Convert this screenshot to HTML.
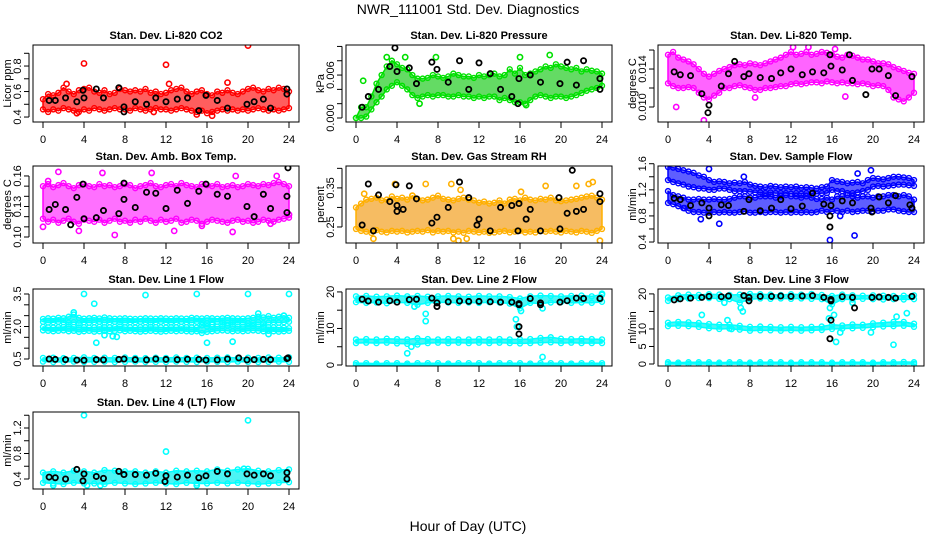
<!DOCTYPE html>
<html><head><meta charset="utf-8"><title>NWR_111001 Std. Dev. Diagnostics</title>
<style>
html,body{margin:0;padding:0;background:#fff;}
svg{display:block;font-family:"Liberation Sans",Arial,sans-serif;}
</style></head>
<body>
<svg id="chart" width="936" height="540" viewBox="0 0 936 540" xmlns="http://www.w3.org/2000/svg">
<rect x="0" y="0" width="936" height="540" fill="#fff"/>
<text x="468" y="14" text-anchor="middle" font-size="14">NWR_111001  Std. Dev. Diagnostics</text>
<text x="468" y="531" text-anchor="middle" font-size="14">Hour of Day (UTC)</text>
</svg>
<script>
const xTicks = [0,4,8,12,16,20,24];
const blackH = [0.6,1.2,2.2,3.3,4,5.2,5.9,7.4,7.9,9,10.1,11,12,13.1,14.1,15.2,15.9,17,18,19.9,20.6,21.5,22.2,23.8];

// Panel 1: CO2
const co2Lo = [0.46,0.44,0.46,0.45,0.47,0.46,0.45,0.44,0.46,0.45,0.47,0.46,0.45,0.46,0.47,0.46,0.46,0.45,0.47,0.46,0.45,0.46,0.47,0.46,0.46,0.45,0.46,0.47,0.46,0.45,0.44,0.45,0.43,0.44,0.45,0.46,0.45,0.46,0.45,0.46,0.45,0.46,0.47,0.46,0.45,0.46,0.45,0.46,0.47];
const co2Hi = [0.54,0.58,0.57,0.59,0.63,0.60,0.58,0.61,0.62,0.63,0.60,0.59,0.61,0.58,0.59,0.62,0.61,0.60,0.61,0.60,0.62,0.59,0.60,0.58,0.59,0.61,0.62,0.63,0.60,0.58,0.60,0.61,0.58,0.57,0.60,0.59,0.61,0.59,0.58,0.60,0.62,0.63,0.61,0.60,0.62,0.61,0.63,0.62,0.60];
const co2Out = [[4,0.82],[12,0.81],[20,0.96],[18,0.67],[12.3,0.66],[2.3,0.66],[10.8,0.44],[16.5,0.41],[15,0.42],[3.3,0.43]];
const co2Black = [0.53,0.53,0.55,0.52,0.55,0.62,0.55,0.63,0.48,0.52,0.50,0.55,0.52,0.54,0.55,0.45,0.57,0.53,0.47,0.50,0.52,0.54,0.47,0.58];
const co2BlackX = [[3.9,0.61],[7.9,0.44],[23.8,0.62]];

// Panel 2: Pressure
const prLo = [0.0000,0.0000,0.0002,0.0012,0.0022,0.0030,0.0040,0.0045,0.0050,0.0045,0.0040,0.0032,0.0028,0.0030,0.0032,0.0030,0.0032,0.0032,0.0030,0.0030,0.0032,0.0030,0.0030,0.0028,0.0030,0.0028,0.0030,0.0030,0.0025,0.0028,0.0025,0.0022,0.0022,0.0020,0.0025,0.0030,0.0032,0.0030,0.0028,0.0030,0.0030,0.0028,0.0030,0.0032,0.0035,0.0038,0.0040,0.0042,0.0045];
const prHi = [0.0000,0.0015,0.0015,0.0030,0.0048,0.0060,0.0072,0.0080,0.0075,0.0070,0.0068,0.0060,0.0055,0.0055,0.0056,0.0060,0.0058,0.0056,0.0058,0.0062,0.0060,0.0058,0.0058,0.0056,0.0060,0.0058,0.0060,0.0062,0.0058,0.0060,0.0068,0.0062,0.0070,0.0060,0.0062,0.0065,0.0068,0.0072,0.0070,0.0075,0.0072,0.0070,0.0068,0.0070,0.0065,0.0068,0.0066,0.0065,0.0062];
const prOut = [[0.7,0.0052],[3,0.0085],[7.8,0.0085],[16,0.0085],[18.9,0.0088],[6.2,0.0020],[16.6,0.0018],[4.8,0.0085]];
const prBlack = [0.0015,0.0030,0.0040,0.0072,0.0065,0.0070,0.0048,0.0078,0.0068,0.0050,0.0080,0.0040,0.0077,0.0062,0.0040,0.0030,0.0055,0.0060,0.0050,0.0048,0.0078,0.0046,0.0080,0.0055];
const prBlackX = [[3.8,0.0098],[15.8,0.0020],[23.8,0.0040]];

// Panel 3: Li-820 Temp
const tpLo = [0.0125,0.0122,0.0120,0.0120,0.0121,0.0120,0.0115,0.0110,0.0108,0.0112,0.0115,0.0120,0.0120,0.0122,0.0123,0.0121,0.0120,0.0118,0.0118,0.0120,0.0120,0.0121,0.0122,0.0122,0.0124,0.0125,0.0124,0.0125,0.0126,0.0126,0.0125,0.0127,0.0126,0.0125,0.0126,0.0125,0.0125,0.0124,0.0125,0.0124,0.0122,0.0123,0.0122,0.0118,0.0110,0.0108,0.0106,0.0110,0.0115];
const tpHi = [0.0155,0.0158,0.0152,0.0150,0.0148,0.0145,0.0140,0.0135,0.0132,0.0135,0.0138,0.0140,0.0142,0.0144,0.0145,0.0144,0.0146,0.0145,0.0144,0.0146,0.0148,0.0150,0.0152,0.0155,0.0158,0.0155,0.0156,0.0158,0.0155,0.0156,0.0158,0.0157,0.0155,0.0153,0.0152,0.0155,0.0154,0.0152,0.0150,0.0150,0.0148,0.0146,0.0146,0.0145,0.0142,0.0140,0.0138,0.0136,0.0135];
const tpOut = [[0.8,0.0100],[3.5,0.0086],[12.2,0.0163],[13.7,0.0163],[17.3,0.0111],[8.5,0.0110],[16.3,0.0161]];
const tpBlack = [0.0137,0.0134,0.0133,0.0114,0.0102,0.0122,0.0135,0.0132,0.0135,0.0131,0.0130,0.0136,0.0140,0.0134,0.0137,0.0136,0.0143,0.0139,0.0128,0.0140,0.0140,0.0133,0.0112,0.0132];
const tpBlackX = [[3.9,0.0094],[19.3,0.0113],[6.5,0.0148],[17.7,0.0155],[15.8,0.0155]];

// Panel 4: Amb. Box Temp
const abLo = [0.118,0.115,0.117,0.114,0.116,0.118,0.115,0.113,0.117,0.116,0.115,0.117,0.114,0.116,0.118,0.115,0.116,0.114,0.117,0.115,0.118,0.116,0.114,0.117,0.115,0.116,0.118,0.114,0.115,0.117,0.116,0.113,0.115,0.117,0.116,0.115,0.114,0.116,0.117,0.115,0.116,0.114,0.115,0.117,0.116,0.115,0.117,0.118,0.119];
const abHi = [0.150,0.152,0.149,0.151,0.153,0.150,0.148,0.151,0.152,0.150,0.149,0.152,0.150,0.151,0.149,0.150,0.152,0.151,0.148,0.150,0.151,0.153,0.150,0.149,0.151,0.152,0.150,0.153,0.151,0.150,0.149,0.152,0.151,0.150,0.152,0.149,0.150,0.151,0.149,0.150,0.152,0.151,0.150,0.152,0.151,0.153,0.154,0.152,0.150];
const abOut = [[0,0.110],[0.5,0.155],[1.5,0.164],[3.5,0.106],[5.8,0.163],[7,0.102],[10.6,0.163],[12.8,0.106],[15.5,0.111],[18.8,0.160],[18.5,0.105],[22.8,0.160],[22.2,0.113],[24,0.122]];
const abBlack = [0.127,0.132,0.127,0.139,0.118,0.119,0.126,0.123,0.137,0.129,0.144,0.143,0.128,0.146,0.133,0.145,0.152,0.142,0.140,0.130,0.120,0.142,0.128,0.140];
const abBlackX = [[3.9,0.152],[2.7,0.112],[7.9,0.153],[23.9,0.168],[23.8,0.124]];

// Panel 5: Gas Stream RH
const rhLo = [0.245,0.240,0.238,0.235,0.242,0.238,0.236,0.240,0.238,0.240,0.236,0.238,0.240,0.238,0.242,0.236,0.240,0.238,0.240,0.236,0.238,0.235,0.240,0.238,0.236,0.238,0.235,0.236,0.238,0.240,0.236,0.238,0.240,0.236,0.238,0.236,0.240,0.238,0.240,0.238,0.236,0.240,0.238,0.236,0.240,0.238,0.235,0.240,0.245];
const rhHi = [0.300,0.310,0.320,0.322,0.325,0.318,0.320,0.328,0.322,0.325,0.320,0.330,0.322,0.318,0.320,0.325,0.330,0.322,0.320,0.318,0.322,0.325,0.320,0.318,0.312,0.315,0.310,0.312,0.318,0.310,0.320,0.322,0.318,0.325,0.320,0.318,0.322,0.320,0.325,0.318,0.316,0.318,0.320,0.322,0.325,0.328,0.330,0.325,0.320];
const rhOut = [[0.8,0.335],[1.7,0.22],[3.8,0.36],[5.5,0.33],[6.8,0.36],[9.3,0.36],[9.5,0.22],[10.2,0.345],[10,0.215],[16.1,0.34],[18.5,0.355],[21.5,0.355],[22.7,0.36],[23.1,0.365],[23.8,0.215],[10.8,0.22]];
const rhBlack = [0.255,0.360,0.332,0.315,0.305,0.355,0.322,0.260,0.275,0.300,0.365,0.325,0.270,0.240,0.300,0.305,0.310,0.295,0.240,0.245,0.285,0.290,0.295,0.315];
const rhBlackX = [[21.1,0.395],[3.9,0.358],[4,0.29],[23.8,0.335],[19.8,0.325],[1.7,0.24],[15.8,0.24],[11.8,0.255],[16.6,0.27],[4.6,0.295]];

// Panel 6: Sample Flow
const sfAHi = [1.55,1.54,1.52,1.50,1.48,1.46,1.42,1.40,1.35,1.32,1.33,1.32,1.30,1.31,1.30,1.32,1.28,1.26,1.25,1.24,1.26,1.25,1.24,1.25,1.24,1.25,1.23,1.24,1.23,1.22,1.24,1.25,1.35,1.33,1.32,1.30,1.31,1.32,1.30,1.35,1.38,1.37,1.36,1.38,1.40,1.40,1.39,1.38,1.35];
const sfALo = [1.35,1.32,1.30,1.28,1.25,1.24,1.22,1.22,1.20,1.20,1.22,1.22,1.20,1.18,1.18,1.18,1.17,1.16,1.16,1.15,1.16,1.15,1.15,1.15,1.14,1.15,1.14,1.15,1.14,1.14,1.15,1.15,1.20,1.18,1.18,1.15,1.15,1.16,1.18,1.20,1.25,1.26,1.25,1.26,1.27,1.28,1.28,1.27,1.26];
const sfBHi = [1.18,1.12,1.10,1.08,1.05,1.05,1.06,1.05,1.05,1.06,1.05,1.05,1.06,1.08,1.10,1.10,1.08,1.08,1.10,1.10,1.10,1.08,1.10,1.12,1.10,1.10,1.08,1.10,1.08,1.06,1.06,1.08,1.05,1.10,1.10,1.12,1.10,1.08,1.10,1.10,1.08,1.10,1.10,1.12,1.12,1.10,1.12,1.10,1.05];
const sfBLo = [1.00,0.98,0.95,0.92,0.88,0.86,0.86,0.85,0.85,0.86,0.85,0.86,0.85,0.85,0.86,0.87,0.85,0.85,0.86,0.85,0.86,0.86,0.85,0.86,0.85,0.86,0.85,0.86,0.85,0.86,0.88,0.86,0.87,0.88,0.86,0.88,0.86,0.87,0.88,0.88,0.87,0.88,0.88,0.90,0.90,0.88,0.87,0.86,0.86];
const sfOut = [[1.6,0.92],[3.2,0.75],[4,1.52],[5,0.68],[7.4,1.40],[15.8,0.43],[18.2,0.50],[18.5,1.45],[19.8,1.50],[16.8,0.80]];
const sfBlack = [1.07,1.05,0.96,1.00,0.92,0.97,0.96,0.87,1.05,0.88,0.92,1.05,0.91,0.95,1.15,0.98,0.96,1.03,1.00,0.86,1.09,1.00,1.11,0.92];
const sfBlackX = [[15.8,0.63],[15.8,0.80],[4,0.80],[19.8,0.92],[23.6,0.97]];

// Panel 7: Line 1 Flow
const l1UHi = [2.35,2.38,2.36,2.40,2.38,2.45,2.55,2.40,2.36,2.38,2.40,2.37,2.42,2.38,2.36,2.37,2.38,2.36,2.35,2.36,2.38,2.37,2.36,2.38,2.37,2.36,2.38,2.37,2.36,2.40,2.38,2.37,2.39,2.38,2.36,2.38,2.40,2.38,2.37,2.36,2.38,2.40,2.45,2.42,2.48,2.40,2.45,2.50,2.40];
const l1ULo = [2.22,2.18,2.20,2.22,2.20,2.18,2.20,2.15,2.20,2.18,2.20,2.22,2.18,2.20,2.22,2.20,2.18,2.20,2.20,2.22,2.20,2.18,2.20,2.22,2.20,2.18,2.20,2.22,2.20,2.18,2.22,2.20,2.15,2.20,2.22,2.20,2.18,2.20,2.20,2.18,2.15,2.18,2.20,2.15,2.18,2.20,2.18,2.20,2.22];
const l1MHi = [1.98,1.96,1.95,1.97,1.98,2.00,1.98,1.96,1.97,1.95,1.96,1.98,1.97,1.96,1.98,2.00,1.97,1.96,1.95,1.97,1.96,1.98,1.97,1.96,1.95,1.97,1.96,1.98,1.97,1.96,1.95,2.05,2.00,1.98,2.00,2.02,2.04,2.02,2.00,1.98,2.00,2.02,2.00,1.98,1.97,1.96,1.95,1.94,1.92];
const l1MLo = [1.82,1.80,1.78,1.80,1.82,1.78,1.80,1.75,1.78,1.80,1.76,1.78,1.80,1.78,1.80,1.82,1.78,1.80,1.78,1.76,1.78,1.80,1.78,1.76,1.78,1.80,1.78,1.80,1.78,1.76,1.78,1.70,1.75,1.78,1.80,1.82,1.80,1.78,1.80,1.78,1.80,1.82,1.80,1.78,1.80,1.78,1.76,1.78,1.80];
const l1BHi = [0.55,0.56,0.54,0.55,0.58,0.55,0.56,0.55,0.57,0.55,0.54,0.56,0.55,0.57,0.55,0.56,0.55,0.56,0.57,0.55,0.56,0.55,0.57,0.56,0.58];
const l1BLo = [0.38,0.36,0.37,0.38,0.36,0.37,0.38,0.36,0.37,0.38,0.36,0.37,0.36,0.38,0.37,0.36,0.38,0.37,0.36,0.38,0.37,0.36,0.37,0.38,0.37];
const l1Out = [[4,3.5],[5,3.05],[3,2.65],[10,3.45],[15,3.5],[20,3.5],[24,3.5],[5.2,1.25],[6,1.6],[16,1.25],[18.5,1.3],[21,2.6],[22,1.65],[16.5,2.1],[23.5,2.5],[6.8,1.55],[7.2,1.52]];
const l1Black = [0.50,0.48,0.47,0.45,0.44,0.47,0.46,0.48,0.50,0.47,0.46,0.50,0.48,0.47,0.49,0.48,0.45,0.46,0.50,0.46,0.47,0.48,0.47,0.52];
const l1BlackX = [[19.1,0.55],[23.9,0.55]];

// Panel 8: Line 2 Flow
const l2UHi = [18.8,18.9,18.7,18.8,19.0,18.8,18.9,18.7,18.8,18.9,18.8,18.7,18.9,18.8,18.8,18.6,18.2,18.8,19.0,18.9,18.8,18.9,19.0,18.8,19.2];
const l2ULo = [17.2,17.0,17.1,16.9,17.2,17.0,16.5,17.0,17.2,17.1,17.0,17.1,17.0,17.2,17.1,16.8,15.5,17.0,16.8,17.1,17.2,17.0,17.1,17.0,17.3];
const l2MHi = [7.0,7.1,7.0,7.2,7.1,7.0,7.3,7.1,7.0,7.1,7.0,7.0,7.1,7.0,7.1,7.0,7.0,7.1,7.4,7.6,7.2,7.1,7.2,7.1,7.0];
const l2MLo = [6.0,6.1,6.0,6.1,5.9,5.8,5.6,6.0,6.1,6.0,6.1,6.0,6.1,6.0,6.1,6.0,5.9,6.0,6.1,6.2,6.0,6.1,6.0,6.0,6.0];
const l2BHi = [0.5,0.5,0.4,0.5,0.5,0.4,0.5,0.5,0.5,0.4,0.5,0.5,0.5,0.4,0.5,0.5,0.5,0.4,0.5,0.5,0.5,0.4,0.5,0.5,0.5];
const l2BLo = [0.0,0.0,0.0,0.0,0.0,0.0,0.0,0.0,0.0,0.0,0.0,0.0,0.0,0.0,0.0,0.0,0.0,0.0,0.0,0.0,0.0,0.0,0.0,0.0,0.0];
const l2Out = [[5.7,16],[6.8,14],[6.8,12],[5,3.2],[5.4,5],[15.6,12.5],[15.7,10.5],[16.1,14.8],[18.2,2.2],[18.2,15.5],[24,19.5]];
const l2Black = [18.0,17.5,17.2,17.6,17.2,17.9,18.0,18.3,17.0,17.3,17.5,17.4,17.4,17.3,17.2,17.2,16.8,18.2,17.0,17.2,17.6,18.3,18.2,18.2];
const l2BlackX = [[15.9,10.5],[15.9,8.5],[15.9,16.5],[7.9,16],[18,16.5]];

// Panel 9: Line 3 Flow
const l3UHi = [19.0,19.6,19.8,19.7,19.9,19.8,19.7,19.8,20.0,19.9,19.8,19.7,19.9,19.8,20.0,19.7,19.4,19.8,19.6,19.5,19.6,19.5,19.4,19.5,19.6];
const l3ULo = [18.0,18.5,18.7,18.8,18.8,18.6,18.5,17.5,18.5,18.7,18.6,18.7,18.6,18.7,18.6,18.5,17.0,18.5,18.4,18.6,18.5,18.4,18.5,18.4,18.5];
const l3MHi = [11.8,12.0,11.9,11.7,11.4,11.2,11.2,10.9,10.6,10.7,10.6,10.5,10.6,10.5,10.6,10.7,11.2,11.0,11.3,11.2,11.6,11.8,12.0,12.0,11.5];
const l3MLo = [10.8,10.9,10.8,10.6,10.2,10.0,10.1,9.8,9.5,9.6,9.6,9.5,9.6,9.5,9.6,9.7,10.0,10.1,10.2,10.3,10.5,10.7,10.8,10.9,10.6];
const l3BHi = [0.5,0.4,0.5,0.5,0.5,0.4,0.5,0.5,0.4,0.5,0.5,0.5,0.4,0.5,0.5,0.5,0.4,0.5,0.5,0.5,0.4,0.5,0.5,0.6,0.5];
const l3BLo = [0.0,0.0,0.0,0.0,0.0,0.0,0.0,0.0,0.0,0.0,0.0,0.0,0.0,0.0,0.0,0.0,0.0,0.0,0.0,0.0,0.0,0.0,0.0,0.0,0.0];
const l3Out = [[3.3,14],[5.8,12.5],[6.2,10],[7.1,16],[7.3,15],[5.5,17.5],[15.7,13],[15.8,16],[16.2,14],[16.4,6.3],[16.8,9],[19.8,9],[22,5.5],[22.3,13.5],[23.3,14.5],[18,17.5]];
const l3Black = [18.3,18.6,18.8,19.0,19.3,19.2,19.4,19.5,19.0,19.3,19.3,19.4,19.3,19.4,19.5,19.0,18.4,19.2,19.0,19.0,19.1,19.0,18.8,19.3];
const l3BlackX = [[15.9,12.5],[15.8,7.2],[15.9,18],[18.2,16],[7.9,18]];

// Panel 10: Line 4 (LT) Flow
const l4Hi = [0.50,0.52,0.50,0.53,0.52,0.50,0.54,0.53,0.52,0.52,0.50,0.52,0.50,0.53,0.52,0.53,0.52,0.55,0.53,0.55,0.56,0.53,0.52,0.54,0.55];
const l4Lo = [0.34,0.33,0.32,0.34,0.33,0.33,0.32,0.34,0.33,0.32,0.33,0.34,0.33,0.32,0.34,0.33,0.33,0.34,0.33,0.34,0.33,0.32,0.33,0.34,0.35];
const l4Out = [[4,1.4],[12,0.83],[20,1.32],[19.6,0.56],[4.3,0.3],[1,0.3],[15,0.3],[5.6,0.3]];
const l4Black = [0.43,0.42,0.40,0.55,0.48,0.44,0.41,0.52,0.47,0.47,0.46,0.49,0.45,0.43,0.46,0.42,0.45,0.52,0.48,0.48,0.46,0.48,0.45,0.50];
const l4BlackX = [[3.9,0.37],[11.9,0.36],[23.8,0.40]];

const yTicks1 = [0.4,0.5,0.6,0.7,0.8,0.9], yLab1 = ["0.4","","0.6","","0.8",""];
const yTicks2 = [0,0.002,0.004,0.006,0.008,0.010], yLab2 = ["0.000","","","0.006","",""];
const yTicks3 = [0.010,0.012,0.014,0.016], yLab3 = ["0.010","","0.014",""];
const yTicks4 = [0.10,0.11,0.12,0.13,0.14,0.15,0.16], yLab4 = ["0.10","","","0.13","","","0.16"];
const yTicks5 = [0.25,0.30,0.35,0.40], yLab5 = ["0.25","","0.35",""];
const yTicks6 = [0.4,0.6,0.8,1.0,1.2,1.4,1.6], yLab6 = ["0.4","","0.8","","1.2","","1.6"];
const yTicks7 = [0.5,1.0,1.5,2.0,2.5,3.0,3.5], yLab7 = ["0.5","","","2.0","","","3.5"];
const yTicks8 = [0,5,10,15,20], yLab8 = ["0","5","10","","20"];
const yTicks10 = [0.4,0.6,0.8,1.0,1.2,1.4], yLab10 = ["0.4","","0.8","","1.2",""];

const COLS = [33, 346, 658], ROWS = [45, 166, 289, 412], BW = 266, BH = 77;

const panels = [
 {name:'co2', title:'Stan. Dev. Li-820 CO2', ytitle:'Licor ppm', c:0, r:0, ylim:[0.361,0.965], yt:yTicks1, yl:yLab1, col:'#ff0000', fill:'#ff1a1a', bands:[[co2Lo,co2Hi]], out:co2Out, blk:co2Black, blkX:co2BlackX},
 {name:'pressure', title:'Stan. Dev. Li-820 Pressure', ytitle:'kPa', c:1, r:0, ylim:[-0.00056,0.0102], yt:yTicks2, yl:yLab2, col:'#00e000', fill:'#22cc22', bands:[[prLo,prHi]], out:prOut, blk:prBlack, blkX:prBlackX},
 {name:'li820-temp', title:'Stan. Dev. Li-820 Temp.', ytitle:'degrees C', c:2, r:0, ylim:[0.00842,0.01653], yt:yTicks3, yl:yLab3, col:'#ff00ff', fill:'#ff22ff', bands:[[tpLo,tpHi]], out:tpOut, blk:tpBlack, blkX:tpBlackX},
 {name:'amb-box-temp', title:'Stan. Dev. Amb. Box Temp.', ytitle:'degrees C', c:0, r:1, ylim:[0.0941,0.1698], yt:yTicks4, yl:yLab4, col:'#ff00ff', fill:'#ff33ff', bands:[[abLo,abHi]], out:abOut, blk:abBlack, blkX:abBlackX},
 {name:'gas-stream-rh', title:'Stan. Dev. Gas Stream RH', ytitle:'percent', c:1, r:1, ylim:[0.209,0.406], yt:yTicks5, yl:yLab5, col:'#ffb000', fill:'#f2a020', bands:[[rhLo,rhHi]], out:rhOut, blk:rhBlack, blkX:rhBlackX},
 {name:'sample-flow', title:'Stan. Dev. Sample Flow', ytitle:'ml/min', c:2, r:1, ylim:[0.385,1.565], yt:yTicks6, yl:yLab6, col:'#0000ff', fill:'#1a1aff', bands:[[sfALo,sfAHi],[sfBLo,sfBHi]], out:sfOut, blk:sfBlack, blkX:sfBlackX},
 {name:'line1-flow', title:'Stan. Dev. Line 1 Flow', ytitle:'ml/min', c:0, r:2, ylim:[0.177,3.73], yt:yTicks7, yl:yLab7, col:'#00ffff', fill:'#00f0f0', bands:[[l1ULo,l1UHi],[l1MLo,l1MHi],[l1BLo,l1BHi]], out:l1Out, blk:l1Black, blkX:l1BlackX},
 {name:'line2-flow', title:'Stan. Dev. Line 2 Flow', ytitle:'ml/min', c:1, r:2, ylim:[-0.27,20.8], yt:yTicks8, yl:["0","","10","","20"], col:'#00ffff', fill:'#00f0f0', bands:[[l2ULo,l2UHi],[l2MLo,l2MHi],[l2BLo,l2BHi]], out:l2Out, blk:l2Black, blkX:l2BlackX},
 {name:'line3-flow', title:'Stan. Dev. Line 3 Flow', ytitle:'ml/min', c:2, r:2, ylim:[-0.57,21.4], yt:yTicks8, yl:yLab8, col:'#00ffff', fill:'#00f0f0', bands:[[l3ULo,l3UHi],[l3MLo,l3MHi],[l3BLo,l3BHi]], out:l3Out, blk:l3Black, blkX:l3BlackX},
 {name:'line4-flow', title:'Stan. Dev. Line 4 (LT) Flow', ytitle:'ml/min', c:0, r:3, ylim:[0.243,1.451], yt:yTicks10, yl:yLab10, col:'#00ffff', fill:'#00f0f0', bands:[[l4Lo,l4Hi]], out:l4Out, blk:l4Black, blkX:l4BlackX}
];

const NS = 'http://www.w3.org/2000/svg';
const svg = document.getElementById('chart');
function mk(tag, attrs, parent){
  const e = document.createElementNS(NS, tag);
  for (const k in attrs) e.setAttribute(k, attrs[k]);
  parent.appendChild(e);
  return e;
}

panels.forEach(p => {
  const L = COLS[p.c], T = ROWS[p.r];
  const xs = h => L + 10 + h * (BW - 20) / 24;
  const ys = v => T + BH - (v - p.ylim[0]) / (p.ylim[1] - p.ylim[0]) * BH;
  const g = mk('g', {}, svg);
  
  

  const clipId = 'clip-' + p.name;
  const cp = mk('clipPath', {id: clipId}, g);
  mk('rect', {x: L, y: T, width: BW, height: BH}, cp);
  const plot = mk('g', {'clip-path': 'url(#' + clipId + ')'}, g);
  
  

  p.bands.forEach((b, bi) => {
    const lo = b[0], hi = b[1], n = lo.length;
    const hx = i => i * 24 / (n - 1);
    let d = '';
    for (let i = 0; i < n; i++) d += (i ? 'L' : 'M') + xs(hx(i)).toFixed(1) + ',' + ys(hi[i]).toFixed(1);
    for (let i = n - 1; i >= 0; i--) d += 'L' + xs(hx(i)).toFixed(1) + ',' + ys(lo[i]).toFixed(1);
    d += 'Z';
    const band = mk('path', {d: d, fill: p.fill, 'fill-opacity': 0.7, stroke: p.col, 'stroke-width': 1.5, 'stroke-linejoin': 'round'}, plot);
    
    
    for (let i = 0; i < n; i++) {
      [hi[i], lo[i]].forEach(v => {
        const pt = mk('circle', {cx: xs(hx(i)), cy: ys(v), r: 2.5, fill: 'none', stroke: p.col, 'stroke-width': 1.4}, plot);
        
        
      });
    }
  });
  p.out.forEach(o => {
    const pt = mk('circle', {cx: xs(o[0]), cy: ys(o[1]), r: 2.6, fill: 'none', stroke: p.col, 'stroke-width': 1.6}, plot);
    
    
  });
  p.blk.forEach((v, i) => {
    const pt = mk('circle', {cx: xs(blackH[i]), cy: ys(v), r: 2.6, fill: 'none', stroke: '#000', 'stroke-width': 1.8}, plot);
    
    
  });
  p.blkX.forEach(o => {
    const pt = mk('circle', {cx: xs(o[0]), cy: ys(o[1]), r: 2.6, fill: 'none', stroke: '#000', 'stroke-width': 1.8}, plot);
    
    
  });

  const box = mk('rect', {x: L, y: T, width: BW, height: BH, fill: 'none', stroke: '#000', 'stroke-width': 1}, g);
  
  

  const xa = mk('g', {}, g);
  
  
  mk('line', {x1: xs(xTicks[0]), x2: xs(xTicks[xTicks.length - 1]), y1: T + BH, y2: T + BH, stroke: '#000'}, xa);
  xTicks.forEach(t => {
    mk('line', {x1: xs(t), x2: xs(t), y1: T + BH, y2: T + BH + 6, stroke: '#000'}, xa);
    const tl = mk('text', {x: xs(t), y: T + BH + 21, 'text-anchor': 'middle', 'font-size': 11}, xa);
    tl.textContent = String(t);
    
    
  });

  const ya = mk('g', {}, g);
  
  
  mk('line', {x1: L - 4, x2: L - 4, y1: ys(p.yt[0]), y2: ys(p.yt[p.yt.length - 1]), stroke: '#000'}, ya);
  p.yt.forEach((t, i) => {
    mk('line', {x1: L - 9, x2: L - 4, y1: ys(t), y2: ys(t), stroke: '#000'}, ya);
    if (p.yl[i]) {
      const x = L - 12, y = ys(t);
      const tl = mk('text', {x: x, y: y, 'text-anchor': 'middle', 'font-size': 11, transform: 'rotate(-90 ' + x + ' ' + y + ')'}, ya);
      tl.textContent = p.yl[i];
      
      
    }
  });
  const yx = L - 22, yy = T + BH / 2;
  const yt = mk('text', {x: yx, y: yy, 'text-anchor': 'middle', 'font-size': 11, transform: 'rotate(-90 ' + yx + ' ' + yy + ')'}, g);
  yt.textContent = p.ytitle;
  
  

  const tt = mk('text', {x: L + BW / 2, y: T - 6, 'text-anchor': 'middle', 'font-size': 11, 'font-weight': 'bold'}, g);
  tt.textContent = p.title;
  
  
});
</script>
</body></html>
